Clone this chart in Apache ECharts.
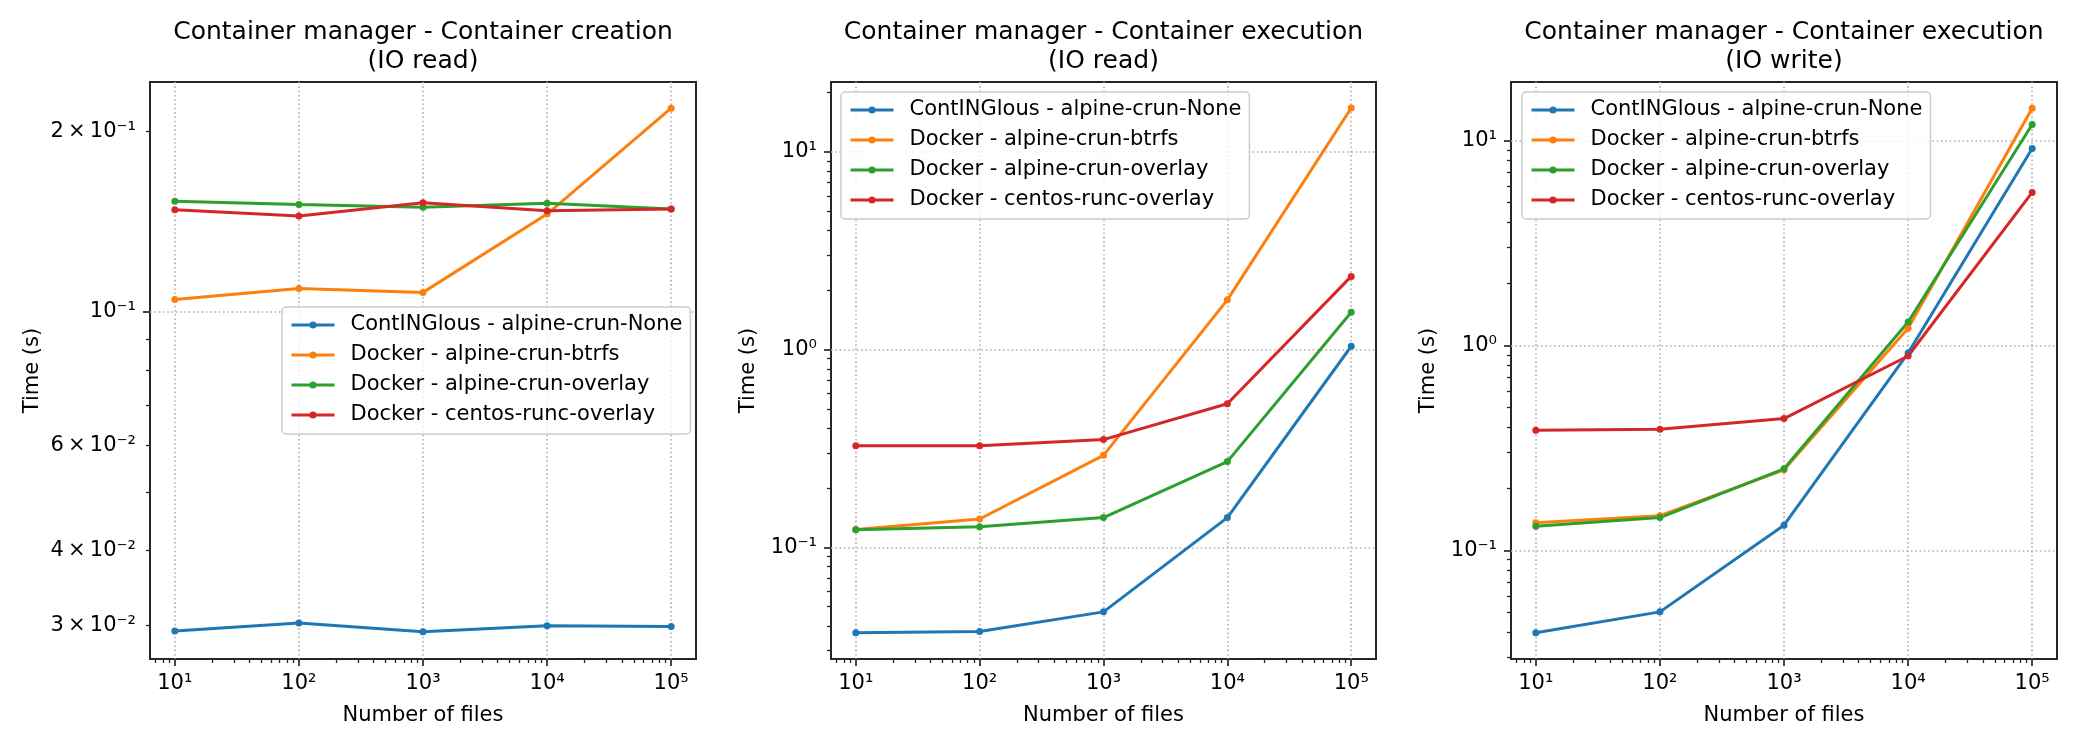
<!DOCTYPE html>
<html>
<head>
<meta charset="utf-8">
<title>Container manager</title>
<script src="https://cdn.jsdelivr.net/npm/echarts@6.0.0/dist/echarts.min.js"></script>
<style>
    html, body { margin: 0; padding: 0; background: #fff; }
    #main { width: 2100px; height: 750px; }
</style>
</head>
<body>
<div id="main"></div>
<script>
// x: number of files
var fileCounts = [10, 100, 1000, 10000, 100000];

var seriesNames = [
    'ContINGlous - alpine-crun-None',
    'Docker - alpine-crun-btrfs',
    'Docker - alpine-crun-overlay',
    'Docker - centos-runc-overlay'
];
var seriesColors = ['#1f77b4', '#ff7f0e', '#2ca02c', '#d62728'];

// Container creation (IO read), seconds
var creationReadCont    = [0.0294, 0.0303, 0.0293, 0.0300, 0.0299];
var creationReadBtrfs   = [0.1049, 0.1094, 0.1078, 0.1456, 0.2186];
var creationReadOverlay = [0.1530, 0.1510, 0.1494, 0.1518, 0.1485];
var creationReadCentos  = [0.1480, 0.1445, 0.1521, 0.1475, 0.1485];

// Container execution (IO read), seconds
var execReadCont    = [0.0369, 0.0375, 0.0471, 0.1413, 1.040];
var execReadBtrfs   = [0.1230, 0.1390, 0.2917, 1.786, 16.70];
var execReadOverlay = [0.1225, 0.1271, 0.1413, 0.2713, 1.545];
var execReadCentos  = [0.3262, 0.3260, 0.3506, 0.5326, 2.347];

// Container execution (IO write), seconds
var execWriteCont    = [0.0396, 0.0501, 0.1326, 0.918, 9.15];
var execWriteBtrfs   = [0.1362, 0.1476, 0.2472, 1.213, 14.37];
var execWriteOverlay = [0.1312, 0.1445, 0.2500, 1.301, 11.97];
var execWriteCentos  = [0.3860, 0.3904, 0.4395, 0.888, 5.58];

// tick labels
var xTickValues = [10, 100, 1000, 10000, 100000];
var xTickLabels = ['10\u00b9', '10\u00b2', '10\u00b3', '10\u2074', '10\u2075'];
var yTickValuesCreation = [0.03, 0.04, 0.06, 0.1, 0.2];
var yTickLabelsCreation = ['3\u2009\u00d7\u200910\u207b\u00b2', '4\u2009\u00d7\u200910\u207b\u00b2', '6\u2009\u00d7\u200910\u207b\u00b2', '10\u207b\u00b9', '2\u2009\u00d7\u200910\u207b\u00b9'];
var yTickValuesExec = [0.1, 1, 10];
var yTickLabelsExec = ['10\u207b\u00b9', '10\u2070', '10\u00b9'];

var FONT = 'DejaVu Sans';
var X_MIN = 6.3096, X_MAX = 158489;

var panels = [
    {
        title: 'Container manager - Container creation\n(IO read)',
        rect: { left: 150, top: 82, width: 546, height: 577 },
        yMin: 0.0264, yMax: 0.2417,
        yMajor: [0.1], yLabelValues: yTickValuesCreation, yLabels: yTickLabelsCreation,
        yNameGap: 107,
        legend: { left: 282, top: 307 },
        data: [creationReadCont, creationReadBtrfs, creationReadOverlay, creationReadCentos]
    },
    {
        title: 'Container manager - Container execution\n(IO read)',
        rect: { left: 831, top: 82, width: 545, height: 577 },
        yMin: 0.0272, yMax: 22.6,
        yMajor: yTickValuesExec, yLabelValues: yTickValuesExec, yLabels: yTickLabelsExec,
        yNameGap: 72,
        legend: { left: 841, top: 92 },
        data: [execReadCont, execReadBtrfs, execReadOverlay, execReadCentos]
    },
    {
        title: 'Container manager - Container execution\n(IO write)',
        rect: { left: 1511, top: 82, width: 546, height: 577 },
        yMin: 0.0295, yMax: 19.3,
        yMajor: yTickValuesExec, yLabelValues: yTickValuesExec, yLabels: yTickLabelsExec,
        yNameGap: 72,
        legend: { left: 1522, top: 92 },
        data: [execWriteCont, execWriteBtrfs, execWriteOverlay, execWriteCentos]
    }
];

// minor ticks of a log axis: 2..9 x 10^n inside [lo, hi]
function minorTicks(lo, hi) {
    var out = [];
    for (var e = Math.floor(Math.log10(lo)); e <= Math.ceil(Math.log10(hi)); e++) {
        for (var m = 2; m <= 9; m++) {
            var v = +(m * Math.pow(10, e)).toPrecision(6);
            if (v >= lo && v <= hi) out.push(v);
        }
    }
    return out;
}

function labelFor(values, labels) {
    return function (value) {
        for (var i = 0; i < values.length; i++) {
            if (Math.abs(Math.log10(value / values[i])) < 1e-6) return labels[i];
        }
        return '';
    };
}

var tickColor = '#262626';
var gridLine = { color: '#b0b0b0', width: 1.6, type: [1.6, 2.7] };

var grids = [], xAxes = [], yAxes = [], titles = [], legends = [], series = [];

panels.forEach(function (p, pi) {
    var cx = p.rect.left + p.rect.width / 2;
    titles.push({
        text: p.title, left: cx, top: 18, textAlign: 'center', padding: 0,
        textStyle: { fontFamily: FONT, fontSize: 25, fontWeight: 'normal', color: '#000', lineHeight: 29 }
    });

    // main grid: frame, major ticks, labels, grid lines
    grids.push({
        left: p.rect.left, top: p.rect.top, width: p.rect.width, height: p.rect.height,
        show: true, borderColor: tickColor, borderWidth: 2, backgroundColor: 'transparent',
        outerBoundsMode: 'none'
    });
    // overlay grid: minor ticks only
    grids.push({
        left: p.rect.left, top: p.rect.top, width: p.rect.width, height: p.rect.height,
        show: false, outerBoundsMode: 'none'
    });

    xAxes.push({
        type: 'log', logBase: 10, gridIndex: pi * 2, min: X_MIN, max: X_MAX,
        name: 'Number of files', nameLocation: 'middle', nameGap: 46,
        nameTextStyle: { fontFamily: FONT, fontSize: 21, color: '#000' },
        axisLine: { show: false },
        axisTick: { customValues: xTickValues, length: 7, lineStyle: { color: tickColor, width: 1.7 } },
        axisLabel: {
            customValues: xTickValues, margin: 14, fontFamily: FONT, fontSize: 21, color: '#000',
            formatter: labelFor(xTickValues, xTickLabels)
        },
        splitLine: { show: true, lineStyle: gridLine },
        minorTick: { show: false }
    });
    xAxes.push({
        type: 'log', logBase: 10, gridIndex: pi * 2 + 1, min: X_MIN, max: X_MAX,
        axisLine: { show: false },
        axisTick: { customValues: minorTicks(X_MIN, X_MAX), length: 4, lineStyle: { color: tickColor, width: 1.3 } },
        axisLabel: { show: false },
        splitLine: { show: false }
    });

    yAxes.push({
        type: 'log', logBase: 10, gridIndex: pi * 2, min: p.yMin, max: p.yMax,
        name: 'Time (s)', nameLocation: 'middle', nameGap: p.yNameGap, nameRotate: 90,
        nameTextStyle: { fontFamily: FONT, fontSize: 21, color: '#000' },
        axisLine: { show: false },
        axisTick: { customValues: p.yMajor, length: 7, lineStyle: { color: tickColor, width: 1.7 } },
        axisLabel: {
            customValues: p.yLabelValues, margin: 14, fontFamily: FONT, fontSize: 21, color: '#000',
            formatter: labelFor(p.yLabelValues, p.yLabels)
        },
        splitLine: { show: true, lineStyle: gridLine },
        minorTick: { show: false }
    });
    yAxes.push({
        type: 'log', logBase: 10, gridIndex: pi * 2 + 1, min: p.yMin, max: p.yMax,
        axisLine: { show: false },
        axisTick: { customValues: minorTicks(p.yMin, p.yMax), length: 4, lineStyle: { color: tickColor, width: 1.3 } },
        axisLabel: { show: false },
        splitLine: { show: false }
    });

    legends.push({
        data: seriesNames, orient: 'vertical', left: p.legend.left, top: p.legend.top,
        itemWidth: 43, itemHeight: 9, itemGap: 0, padding: [3, 8, 4, 8],
        backgroundColor: 'rgba(255,255,255,0.8)', borderColor: '#cccccc', borderWidth: 1.5, borderRadius: 4,
        selectedMode: false,
        lineStyle: { width: 3 },
        textStyle: { fontFamily: FONT, fontSize: 21, color: '#000', lineHeight: 30, padding: [0, 0, 0, 11] }
    });

    p.data.forEach(function (vals, si) {
        series.push({
            type: 'line', name: seriesNames[si],
            xAxisIndex: pi * 2, yAxisIndex: pi * 2,
            data: fileCounts.map(function (x, k) { return [x, vals[k]]; }),
            color: seriesColors[si],
            symbol: 'circle', symbolSize: 7, showSymbol: true,
            lineStyle: { width: 3 },
            emphasis: { disabled: true }
        });
    });
});

var chart = echarts.init(document.getElementById('main'), null, { renderer: 'canvas' });
chart.setOption({
    animation: false,
    backgroundColor: '#fff',
    textStyle: { fontFamily: FONT },
    title: titles,
    legend: legends,
    grid: grids,
    xAxis: xAxes,
    yAxis: yAxes,
    series: series
});
</script>
</body>
</html>
